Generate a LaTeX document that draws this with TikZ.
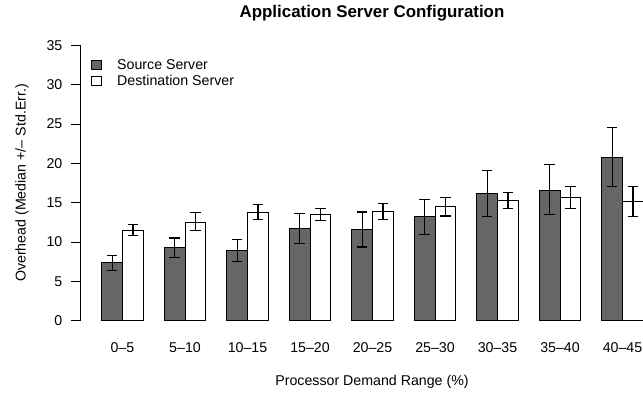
\documentclass[tikz,border=0pt]{standalone}
\usepackage{fontspec}
\setmainfont{Liberation Sans}
\definecolor{darkbar}{HTML}{666666}
\begin{document}
\begin{tikzpicture}[x=1bp,y=-1bp,
  lbl/.style={font=\fontsize{14.2bp}{17bp}\selectfont, inner sep=0pt},
  darkfill/.style={fill=darkbar, draw=black, line width=0.9bp},
  whitefill/.style={fill=white, draw=black, line width=0.9bp},
  errbar/.style={draw=black, line width=1.1bp}]
\useasboundingbox (0,0) rectangle (643,394);
\clip (0,0) rectangle (643,394);
% title
\node[inner sep=0pt, font=\fontsize{16.9bp}{20bp}\selectfont\bfseries, anchor=base] (title) at (372,17.5) {Application Server Configuration};
% y axis
\draw[line width=0.8bp] (80,{320.5}) -- (80,{320.5-7.86*35});
\foreach \t in {0,5,...,35}{
  \draw[line width=0.8bp] (80,{320.5-7.86*\t}) -- (70.5,{320.5-7.86*\t});
  \node[lbl, anchor=east] (yt\t) at (62.5,{320.5-7.86*\t}) {\t};
}
\node[lbl, rotate=90, anchor=base] (ylab) at (25.5,183) {Overhead (Median +/\textendash\ Std.Err.)};
\node[lbl, anchor=base] (xlab) at (372,385.7) {Processor Demand Range (\%)};
% legend
\draw[darkfill] (91.5,60) rectangle (101.5,69);
\node[lbl, anchor=west] (leg1) at (117,64.5) {Source Server};
\draw[whitefill] (91.5,76) rectangle (101.5,85);
\node[lbl, anchor=west] (leg2) at (117,80.5) {Destination Server};
% bars
\foreach \i/\lab/\dv/\dh/\dl/\wv/\wh/\wl in {
 0/0\textendash5/7.35/8.3/6.4/11.5/12.2/10.8,
 1/5\textendash10/9.3/10.5/8.0/12.5/13.7/11.4,
 2/10\textendash15/8.9/10.3/7.5/13.8/14.8/12.9,
 3/15\textendash20/11.7/13.6/9.8/13.5/14.3/12.7,
 4/20\textendash25/11.6/13.8/9.35/13.9/14.9/12.9,
 5/25\textendash30/13.2/15.4/10.9/14.5/15.6/13.3,
 6/30\textendash35/16.2/19.1/13.2/15.3/16.3/14.3,
 7/35\textendash40/16.6/19.8/13.5/15.7/17.1/14.3,
 8/40\textendash45/20.8/24.5/17.1/15.1/17.0/13.2}{
  \pgfmathsetmacro{\xs}{101.7+62.5*\i}
  \draw[darkfill] (\xs,320.5) rectangle ({\xs+20.83},{320.5-7.86*\dv});
  \draw[whitefill] ({\xs+20.83},320.5) rectangle ({\xs+41.67},{320.5-7.86*\wv});
  \draw[errbar] ({\xs+10.42},{320.5-7.86*\dl}) -- ({\xs+10.42},{320.5-7.86*\dh})
     ({\xs+5.2},{320.5-7.86*\dl}) -- ({\xs+15.6},{320.5-7.86*\dl})
     ({\xs+5.2},{320.5-7.86*\dh}) -- ({\xs+15.6},{320.5-7.86*\dh});
  \draw[errbar] ({\xs+31.25},{320.5-7.86*\wl}) -- ({\xs+31.25},{320.5-7.86*\wh})
     ({\xs+26.05},{320.5-7.86*\wl}) -- ({\xs+36.45},{320.5-7.86*\wl})
     ({\xs+26.05},{320.5-7.86*\wh}) -- ({\xs+36.45},{320.5-7.86*\wh});
  \node[lbl, anchor=base] (xt\i) at ({\xs+20.83},352.3) {\lab};
}
\end{tikzpicture}
\end{document}
